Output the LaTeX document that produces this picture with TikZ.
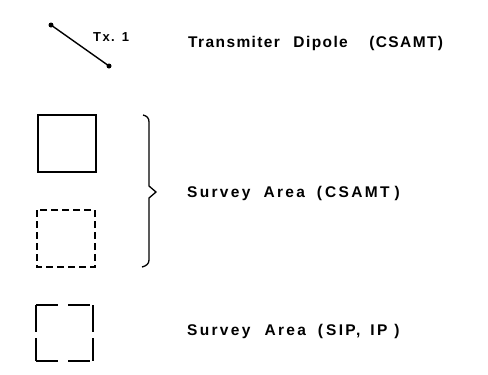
\documentclass[tikz,border=0pt]{standalone}
\usepackage{fontspec}
\setmainfont{Liberation Sans}
\newfontfamily\lblA[LetterSpace=9]{Liberation Sans Bold}
\newfontfamily\lblB[LetterSpace=15]{Liberation Sans Bold}
\newfontfamily\lblT[LetterSpace=11]{Liberation Sans Bold}
\begin{document}
\begin{tikzpicture}[x=1pt,y=-1pt,
  lbl/.style={anchor=west,inner sep=0pt},
  endpt/.style={circle,fill=black,inner sep=0pt,minimum size=5pt},
  box/.style={line width=1.8pt},
  dbox/.style={line width=1.5pt,dash pattern=on 7pt off 4pt},
  hdash/.style={line width=1.5pt,dash pattern=on 22pt off 10pt},
  vdash/.style={line width=1.5pt,dash pattern=on 27pt off 6pt}]
\useasboundingbox (0,0) rectangle (488,375);
% dipole
\node[endpt] (d1) at (51,25) {};
\node[endpt] (d2) at (109,66) {};
\draw[line width=1.4pt] (d1.center) -- (d2.center);
\node[lbl,font=\fontsize{13}{15}\selectfont\lblT] (tx) at (93,37) {Tx.\hspace{7pt}1};
\node[lbl,font=\fontsize{15.5}{17}\selectfont\lblA] (t1) at (188,43)
  {Transmiter\hspace{13.5pt}Dipole\hspace{21.5pt}(CSAMT)};
% solid square
\draw[box] (38,115) rectangle (96,172);
% dashed square
\draw[dbox] (37,210) rectangle (95,267);
% brace
\draw[line width=1.3pt] (143,115) .. controls (147,116) and (149,118) .. (149,122)
  -- (149,186) -- (156,192) -- (149,198) -- (149,260)
  .. controls (149,264) and (146,266) .. (142,267);
\node[lbl,font=\fontsize{15.5}{17}\selectfont\lblB] (t2) at (187,193)
  {Survey\hspace{13pt}Area\hspace{12pt}(\hspace{3pt}CSAMT\hspace{5pt})};
% bottom square
\coordinate (b1) at (36,305);
\coordinate (b2) at (93,305);
\coordinate (b3) at (93,361);
\coordinate (b4) at (36,361);
\draw[hdash] (b1) -- (b2);
\draw[vdash] (b1) -- (b4);
\draw[vdash] (b2) -- (b3);
\draw[hdash] (b4) -- (b3);
\node[lbl,font=\fontsize{15.5}{17}\selectfont\lblB] (t3) at (187,331)
  {Survey\hspace{14pt}Area\hspace{12pt}(\hspace{3pt}SIP,\hspace{10pt}IP\hspace{7pt})};
\end{tikzpicture}
\end{document}
